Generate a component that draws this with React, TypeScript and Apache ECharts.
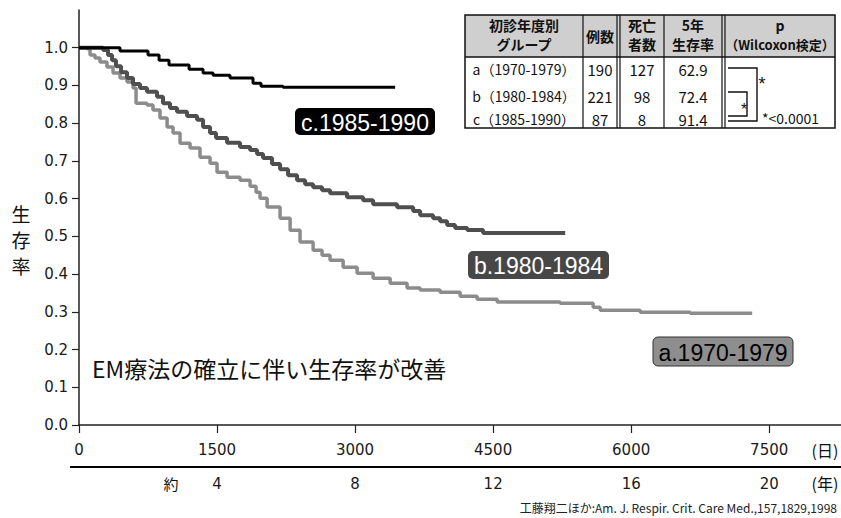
import React, { useEffect, useRef } from 'react';
import * as echarts from 'echarts';

// x-axis ticks (days) and year labels shown below them
const xTickDays = [0, 1500, 3000, 4500, 6000, 7500];
const yearLabels = ['', '4', '8', '12', '16', '20'];
const yTicks = [0, 0.1, 0.2, 0.3, 0.4, 0.5, 0.6, 0.7, 0.8, 0.9, 1.0];

// Kaplan-Meier curves: [day, survival]
const groupA: [number, number][] = [
  [0, 1.0], [87, 0.997], [120, 0.981], [174, 0.973], [228, 0.962], [304, 0.949],
  [370, 0.933], [446, 0.92], [522, 0.909], [587, 0.893], [620, 0.853], [739, 0.848],
  [804, 0.835], [880, 0.814], [957, 0.79], [1022, 0.774], [1098, 0.747], [1207, 0.734],
  [1315, 0.71], [1424, 0.694], [1500, 0.67], [1609, 0.657], [1750, 0.649], [1859, 0.633],
  [1924, 0.617], [1967, 0.601], [2044, 0.578], [2185, 0.548], [2294, 0.516], [2402, 0.485],
  [2544, 0.463], [2641, 0.45], [2728, 0.437], [2870, 0.418], [3022, 0.402], [3196, 0.389],
  [3381, 0.376], [3565, 0.363], [3707, 0.358], [3924, 0.352], [4141, 0.341], [4326, 0.333],
  [4544, 0.326], [5228, 0.323], [5587, 0.312], [5663, 0.304], [6098, 0.299], [6642, 0.296],
  [7315, 0.296],
];
const groupB: [number, number][] = [
  [0, 1.0], [261, 0.994], [315, 0.981], [359, 0.967], [402, 0.951], [457, 0.935],
  [522, 0.92], [587, 0.904], [663, 0.893], [739, 0.883], [848, 0.87], [913, 0.853],
  [989, 0.84], [1065, 0.83], [1174, 0.819], [1283, 0.809], [1348, 0.79], [1424, 0.774],
  [1489, 0.761], [1609, 0.748], [1750, 0.737], [1859, 0.729], [1935, 0.718], [2000, 0.708],
  [2098, 0.692], [2185, 0.678], [2272, 0.662], [2370, 0.649], [2457, 0.638], [2544, 0.63],
  [2641, 0.622], [2728, 0.614], [2913, 0.604], [3087, 0.596], [3196, 0.585], [3457, 0.577],
  [3631, 0.567], [3707, 0.556], [3848, 0.548], [3924, 0.54], [4000, 0.53], [4087, 0.522],
  [4218, 0.517], [4391, 0.509], [5283, 0.509],
];
const groupC: [number, number][] = [
  [0, 1.0], [446, 0.991], [750, 0.981], [870, 0.967], [978, 0.954], [1196, 0.943],
  [1348, 0.933], [1457, 0.927], [1641, 0.92], [1891, 0.906], [1978, 0.898], [2217, 0.895],
  [3435, 0.894],
];

// table data
const tableHeaders = ['初診年度別\nグループ', '例数', '死亡\n者数', '5年\n生存率'];
const groupNames = ['a（1970-1979）', 'b（1980-1984）', 'c（1985-1990）'];
const caseCounts = [190, 221, 87];
const deathCounts = [127, 98, 8];
const fiveYearRates = ['62.9', '72.4', '91.4'];
const pValueText = '*<0.0001';

const curveLabels = ['a.1970-1979', 'b.1980-1984', 'c.1985-1990'];

const JP = '"Noto Sans CJK JP", "Noto Sans", sans-serif';
const SANS = '"Liberation Sans", Arial, sans-serif';
const DJ = '"DejaVu Sans", sans-serif';

function txt(text: string, x: number, y: number, o: any = {}) {
  return {
    type: 'text',
    z: 10,
    style: {
      text,
      x,
      y,
      fill: o.fill ?? '#111',
      fontSize: o.fontSize ?? 14,
      fontFamily: o.fontFamily ?? JP,
      fontWeight: o.fontWeight ?? 'normal',
      align: o.align ?? 'center',
      textAlign: o.align ?? 'center',
      verticalAlign: 'middle',
      textVerticalAlign: 'middle',
    },
  };
}

function vline(x: number, y1: number, y2: number, w = 1.4) {
  return { type: 'line', z: 10, shape: { x1: x, y1, x2: x, y2 }, style: { stroke: '#111', lineWidth: w } };
}
function hline(y: number, x1: number, x2: number, w = 1.4) {
  return { type: 'line', z: 10, shape: { x1, y1: y, x2, y2: y }, style: { stroke: '#111', lineWidth: w } };
}

function buildGraphic() {
  const g: any[] = [];
  // Table
  const L = 465, R = 835, T = 15, B = 128, HB = 57;
  g.push({ type: 'rect', z: 9, shape: { x: L, y: T, width: R - L, height: HB - T }, style: { fill: '#cfcfcf' } });
  g.push({ type: 'rect', z: 9, shape: { x: L, y: HB, width: R - L, height: B - HB }, style: { fill: '#fff' } });
  g.push({ type: 'rect', z: 10, shape: { x: L, y: T, width: R - L, height: B - T }, style: { fill: 'none', stroke: '#111', lineWidth: 1.5 } });
  g.push(hline(HB, L, R, 1.5));
  [583, 617, 620, 664, 722, 725].forEach((x) => g.push(vline(x, T, B, 1.2)));
  const colX = [524, 600, 642, 693, 780];
  tableHeaders.forEach((h, i) => {
    const parts = h.split('\n');
    if (parts.length === 2) {
      g.push(txt(parts[0], colX[i], 25, { fontSize: 14, fontWeight: 'bold' }));
      g.push(txt(parts[1], colX[i], 44, { fontSize: 14, fontWeight: 'bold' }));
    } else {
      g.push(txt(parts[0], colX[i], 36, { fontSize: 14, fontWeight: 'bold' }));
    }
  });
  g.push(txt('p', colX[4], 25, { fontSize: 14, fontWeight: 'bold' }));
  g.push(txt('（Wilcoxon検定）', colX[4], 44, { fontSize: 13, fontWeight: 'bold' }));
  const rowY = [69, 96, 119];
  groupNames.forEach((n, i) => {
    g.push(txt(n, colX[0], rowY[i], { fontSize: 14 }));
    g.push(txt(String(caseCounts[i]), colX[1], rowY[i], { fontSize: 15 }));
    g.push(txt(String(deathCounts[i]), colX[2], rowY[i], { fontSize: 15 }));
    g.push(txt(fiveYearRates[i], colX[3], rowY[i], { fontSize: 15 }));
  });
  // brackets
  g.push({ type: 'polyline', z: 10, shape: { points: [[728, 68], [757, 68], [757, 121], [728, 121]] }, style: { stroke: '#111', lineWidth: 1.4, fill: 'none' } });
  g.push({ type: 'polyline', z: 10, shape: { points: [[728, 92], [747, 92], [747, 116], [728, 116]] }, style: { stroke: '#111', lineWidth: 1.4, fill: 'none' } });
  g.push(txt('*', 762, 84, { fontSize: 18, fontFamily: SANS }));
  g.push(txt('*', 744, 109, { fontSize: 16, fontFamily: SANS }));
  g.push(txt(pValueText, 762, 118, { fontSize: 14, align: 'left' }));

  // curve labels
  const boxes = [
    { x: 653, y: 337, w: 140, h: 29, fill: '#8e8e8e', color: '#000', stroke: '#333' },
    { x: 468, y: 251, w: 141, h: 28, fill: '#474747', color: '#fff', stroke: 'none' },
    { x: 295, y: 108, w: 140, h: 27, fill: '#000', color: '#fff', stroke: 'none' },
  ];
  boxes.forEach((b, i) => {
    g.push({ type: 'rect', z: 10, shape: { x: b.x, y: b.y, width: b.w, height: b.h, r: 5 }, style: { fill: b.fill, stroke: b.stroke, lineWidth: 1 } });
    g.push(txt(curveLabels[i], b.x + b.w / 2, b.y + b.h / 2 + 1, { fontSize: 23, fontFamily: SANS, fill: b.color }));
  });

  // annotation
  g.push(txt('EM療法の確立に伴い生存率が改善', 92, 368, { fontSize: 23, align: 'left', fill: '#111' }));
  // y axis name
  g.push(txt('生', 21, 213, { fontSize: 19 }));
  g.push(txt('存', 21, 239, { fontSize: 19 }));
  g.push(txt('率', 21, 265, { fontSize: 19 }));
  // units
  g.push(txt('(日)', 825, 450, { fontSize: 16 }));
  g.push(txt('(年)', 825, 483, { fontSize: 16 }));
  g.push(txt('約', 171, 483, { fontSize: 15 }));
  // year axis line
  g.push({ type: 'rect', z: 20, shape: { x: 70, y: 466, width: 771, height: 2 }, style: { fill: '#000' } });
  // citation
  g.push(txt('工藤翔二ほか:Am. J. Respir. Crit. Care Med.,157,1829,1998', 837, 507, { fontSize: 12, align: 'right', fill: '#222' }));
  return g;
}

export default function App() {
  const ref = useRef<HTMLDivElement>(null);
  useEffect(() => {
    document.body.style.margin = '0';
    const chart = echarts.init(ref.current!, null, { renderer: 'svg' });
    const option: any = {
      animation: false,
      backgroundColor: '#fff',
      grid: { left: 79, right: 0, top: 10, bottom: 93, containLabel: false },
      xAxis: [
        {
          type: 'value', min: 0, max: 8280, interval: 1500,
          axisLine: { show: true, onZero: false, lineStyle: { color: '#222', width: 1.5 } },
          axisTick: { show: true, length: 8, customValues: xTickDays, lineStyle: { color: '#222', width: 1.2 } },
          axisLabel: { customValues: xTickDays, margin: 17, fontSize: 15, fontFamily: DJ, color: '#1a1a1a', formatter: (v: number) => String(v) },
          splitLine: { show: false },
        },
        {
          type: 'value', min: 0, max: 8280, interval: 1500, position: 'bottom', offset: 42,
          axisLine: { show: true, onZero: false, lineStyle: { color: '#000', width: 2 } },
          axisTick: { show: false },
          axisLabel: {
            customValues: xTickDays, margin: 9, fontSize: 15, fontFamily: DJ, color: '#1a1a1a',
            formatter: (v: number) => { const i = xTickDays.indexOf(v); return i >= 0 ? yearLabels[i] : ''; },
          },
          splitLine: { show: false },
        },
      ],
      yAxis: {
        type: 'value', min: 0, max: 1.1, interval: 0.1,
        axisLine: { show: true, lineStyle: { color: '#222', width: 1.5 } },
        axisTick: { show: true, length: 7, customValues: yTicks, lineStyle: { color: '#222', width: 1.2 } },
        axisLabel: { customValues: yTicks, margin: 11, fontSize: 15, fontFamily: DJ, color: '#1a1a1a', formatter: (v: number) => v.toFixed(1) },
        splitLine: { show: false },
      },
      series: [
        { type: 'line', name: 'a', step: 'end', data: groupA, symbol: 'none', lineStyle: { color: '#8c8c8c', width: 3.5 }, z: 2 },
        { type: 'line', name: 'b', step: 'end', data: groupB, symbol: 'none', lineStyle: { color: '#4f4f4f', width: 4 }, z: 3 },
        { type: 'line', name: 'c', step: 'end', data: groupC, symbol: 'none', lineStyle: { color: '#000', width: 3 }, z: 4 },
      ],
      graphic: buildGraphic(),
    };
    chart.setOption(option);
    return () => chart.dispose();
  }, []);
  return <div ref={ref} style={{ width: 841, height: 518 }} />;
}
